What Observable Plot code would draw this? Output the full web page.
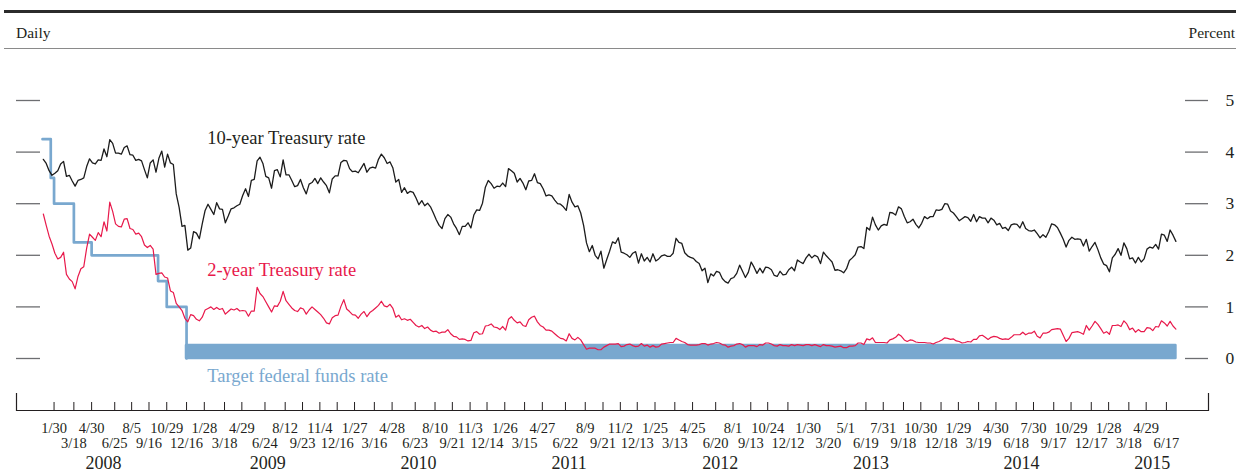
<!DOCTYPE html>
<html>
<head>
<meta charset="utf-8">
<script src="https://cdn.jsdelivr.net/npm/d3@7"></script>
<script src="https://cdn.jsdelivr.net/npm/@observablehq/plot@0.6"></script>
<style>
  body { margin: 0; background: #fff; font-family: "Liberation Serif", "Times New Roman", serif; color: #231f20; }
  #hdr { position: relative; width: 1236px; height: 50px; }
  #hdr .thick { position: absolute; left: 4px; right: 0; top: 10px; height: 3px; background: #2b2b2b; }
  #hdr .thin { position: absolute; left: 4px; right: 0; top: 47.5px; height: 1.5px; background: #8a8a8a; }
  #hdr .lab { position: absolute; top: 25px; font-family: "Liberation Serif", serif; font-size: 15.5px; line-height: 15.5px; white-space: nowrap; }
  #chart { width: 1236px; height: 422px; }
</style>
</head>
<body>
<div id="hdr">
  <div class="thick"></div>
  <div class="lab" style="left:16px">Daily</div>
  <div class="lab" style="right:1px">Percent</div>
  <div class="thin"></div>
</div>
<div id="chart"></div>
<script>
// ---------- Data (weekly Friday readings, percent) ----------
const tenYear2008 = [3.86,3.78,3.64,3.55,3.59,3.64,3.77,3.82,3.53,3.55,3.44,3.34,3.45,3.47,3.50,3.72,3.87,3.79,3.77,3.85,3.84,4.06,3.91,4.24,4.17,3.98,3.98,3.96,4.09,4.12,3.95,3.94,3.84,3.86,3.83,3.66,3.50,3.79,3.85,3.61,3.88,4.02,3.71,3.96,3.79,3.76,3.19,2.93,2.56,2.58,2.10,2.14];
const tenYear2009 = [2.46,2.43,2.32,2.61,2.87,2.99,2.89,2.79,3.02,2.90,2.89,2.63,2.76,2.90,2.92,2.96,2.99,3.16,3.29,3.14,3.45,3.47,3.83,3.90,3.78,3.53,3.50,3.30,3.64,3.66,3.52,3.85,3.56,3.56,3.45,3.33,3.35,3.47,3.31,3.19,3.38,3.41,3.49,3.39,3.50,3.42,3.35,3.21,3.48,3.54,3.54,3.80];
const tenYear2010 = [3.84,3.83,3.68,3.62,3.63,3.60,3.69,3.78,3.61,3.69,3.71,3.69,3.86,3.96,3.89,3.78,3.81,3.69,3.42,3.47,3.22,3.31,3.20,3.24,3.22,3.11,2.98,3.06,2.96,3.01,2.94,2.82,2.69,2.58,2.52,2.71,2.79,2.74,2.61,2.52,2.40,2.56,2.56,2.63,2.53,2.78,2.88,2.87,3.01,3.32,3.45,3.39,3.30];
const tenYear2011 = [3.34,3.33,3.40,3.33,3.68,3.64,3.59,3.42,3.49,3.40,3.27,3.44,3.45,3.58,3.41,3.39,3.29,3.15,3.17,3.15,3.07,3.00,2.99,2.94,2.87,3.18,3.03,2.94,2.96,2.82,2.58,2.24,2.07,2.19,2.00,1.93,2.08,1.75,1.92,2.08,2.26,2.23,2.34,2.06,2.04,2.01,1.96,2.04,2.07,1.85,2.03,1.89];
const tenYear2012 = [1.96,1.87,2.03,1.89,1.93,1.99,2.01,1.98,1.98,2.04,2.33,2.25,2.23,2.05,1.99,1.96,1.94,1.88,1.84,1.70,1.75,1.47,1.64,1.60,1.69,1.67,1.55,1.49,1.46,1.55,1.57,1.65,1.81,1.69,1.57,1.67,1.87,1.77,1.65,1.75,1.66,1.77,1.76,1.72,1.61,1.59,1.69,1.62,1.63,1.72,1.77,1.70];
const tenYear2013 = [1.91,1.87,1.84,1.95,2.02,1.95,2.00,1.97,1.84,2.06,1.99,1.93,1.87,1.71,1.72,1.70,1.66,1.74,1.90,1.95,2.01,2.16,2.17,2.13,2.54,2.49,2.74,2.59,2.49,2.57,2.60,2.58,2.83,2.82,2.78,2.94,2.90,2.75,2.63,2.65,2.70,2.60,2.53,2.62,2.75,2.71,2.75,2.75,2.88,2.87,2.89,3.00];
const tenYear2014 = [2.99,2.86,2.82,2.75,2.67,2.71,2.75,2.73,2.66,2.79,2.65,2.75,2.72,2.72,2.63,2.72,2.68,2.59,2.62,2.52,2.54,2.48,2.59,2.61,2.60,2.53,2.65,2.52,2.48,2.47,2.49,2.42,2.34,2.40,2.35,2.46,2.61,2.59,2.54,2.43,2.31,2.16,2.29,2.35,2.31,2.32,2.31,2.18,2.31,2.08,2.17,2.25];
const tenYear2015 = [2.11,1.95,1.83,1.80,1.68,1.95,2.02,2.13,2.00,2.24,2.13,1.93,1.95,1.85,1.96,1.87,1.93,2.12,2.16,2.14,2.21,2.12,2.41,2.39,2.27,2.49,2.39,2.27];

const twoYear2008 = [2.80,2.58,2.37,2.22,2.04,1.93,1.96,2.06,1.63,1.54,1.49,1.35,1.59,1.74,1.78,2.14,2.41,2.35,2.29,2.44,2.36,2.65,2.47,3.03,2.85,2.61,2.56,2.55,2.70,2.71,2.52,2.50,2.41,2.43,2.36,2.20,2.15,2.19,2.12,1.63,1.65,1.66,1.58,1.56,1.31,1.28,1.07,1.00,0.93,0.78,0.71,0.85];
const twoYear2009 = [0.83,0.76,0.73,0.80,0.94,0.97,1.00,0.95,0.99,0.95,0.97,0.86,0.91,0.96,0.94,0.97,0.92,0.93,0.92,0.82,0.92,0.92,1.38,1.26,1.20,1.10,1.00,0.90,1.02,1.01,1.11,1.30,1.12,1.05,0.98,0.93,0.91,0.98,0.96,0.86,0.94,1.00,0.95,0.90,0.85,0.78,0.69,0.67,0.79,0.83,0.84,1.01];
const twoYear2010 = [1.14,0.96,0.91,0.85,0.84,0.78,0.86,0.91,0.81,0.89,0.93,0.98,1.03,1.11,1.02,1.00,1.05,0.97,0.80,0.84,0.75,0.77,0.74,0.76,0.70,0.64,0.61,0.64,0.58,0.61,0.55,0.52,0.53,0.49,0.51,0.51,0.56,0.48,0.43,0.42,0.37,0.38,0.37,0.34,0.35,0.50,0.52,0.47,0.48,0.63,0.64,0.67,0.61];
const twoYear2011 = [0.60,0.56,0.62,0.55,0.76,0.81,0.74,0.69,0.71,0.64,0.62,0.75,0.80,0.82,0.71,0.64,0.61,0.55,0.55,0.53,0.48,0.43,0.39,0.38,0.34,0.48,0.39,0.36,0.41,0.36,0.27,0.18,0.20,0.20,0.20,0.17,0.17,0.22,0.25,0.28,0.28,0.28,0.29,0.23,0.24,0.27,0.28,0.25,0.23,0.24,0.29,0.24];
const twoYear2012 = [0.26,0.22,0.25,0.22,0.23,0.28,0.29,0.30,0.31,0.31,0.39,0.36,0.33,0.31,0.27,0.26,0.26,0.26,0.27,0.29,0.29,0.26,0.28,0.29,0.31,0.30,0.27,0.26,0.22,0.24,0.25,0.28,0.29,0.27,0.22,0.25,0.25,0.25,0.23,0.27,0.26,0.30,0.30,0.28,0.25,0.24,0.27,0.25,0.25,0.24,0.27,0.25];
const twoYear2013 = [0.27,0.26,0.25,0.27,0.27,0.25,0.27,0.25,0.23,0.27,0.25,0.25,0.24,0.22,0.23,0.24,0.21,0.21,0.24,0.24,0.25,0.30,0.30,0.27,0.38,0.36,0.40,0.31,0.31,0.31,0.31,0.30,0.36,0.38,0.41,0.47,0.43,0.36,0.33,0.36,0.35,0.32,0.31,0.31,0.31,0.30,0.30,0.28,0.31,0.33,0.36,0.40];
const twoYear2014 = [0.39,0.37,0.38,0.34,0.33,0.30,0.31,0.33,0.32,0.37,0.37,0.44,0.45,0.41,0.37,0.41,0.43,0.42,0.39,0.37,0.38,0.37,0.41,0.46,0.46,0.46,0.51,0.46,0.49,0.49,0.53,0.43,0.40,0.49,0.49,0.51,0.56,0.57,0.58,0.57,0.45,0.33,0.39,0.50,0.51,0.52,0.50,0.47,0.64,0.55,0.63,0.72];
const twoYear2015 = [0.66,0.58,0.49,0.52,0.47,0.64,0.64,0.65,0.62,0.73,0.67,0.56,0.59,0.51,0.56,0.52,0.52,0.60,0.59,0.54,0.62,0.61,0.73,0.69,0.63,0.72,0.63,0.57];

// Target federal funds rate (steps), then target range from 12/16/2008
const ffDates = ["2008-01-02","2008-01-22","2008-01-30","2008-03-18","2008-04-30","2008-10-08","2008-10-29","2008-12-16"];
const ffRates = [4.25, 3.5, 3.0, 2.25, 2.0, 1.5, 1.0, 0];
const ffRangeDates = ["2008-12-16", "2015-07-10"];
const ffRangeLower = [0, 0];
const ffRangeUpper = [0.25, 0.25];

// FOMC meeting dates used as x-axis ticks
const fomcDates = [
  "2008-01-30","2008-03-18","2008-04-30","2008-06-25","2008-08-05","2008-09-16","2008-10-29","2008-12-16",
  "2009-01-28","2009-03-18","2009-04-29","2009-06-24","2009-08-12","2009-09-23","2009-11-04","2009-12-16",
  "2010-01-27","2010-03-16","2010-04-28","2010-06-23","2010-08-10","2010-09-21","2010-11-03","2010-12-14",
  "2011-01-26","2011-03-15","2011-04-27","2011-06-22","2011-08-09","2011-09-21","2011-11-02","2011-12-13",
  "2012-01-25","2012-03-13","2012-04-25","2012-06-20","2012-08-01","2012-09-13","2012-10-24","2012-12-12",
  "2013-01-30","2013-03-20","2013-05-01","2013-06-19","2013-07-31","2013-09-18","2013-10-30","2013-12-18",
  "2014-01-29","2014-03-19","2014-04-30","2014-06-18","2014-07-30","2014-09-17","2014-10-29","2014-12-17",
  "2015-01-28","2015-03-18","2015-04-29","2015-06-17"
];
const yearLabels = ["2008","2009","2010","2011","2012","2013","2014","2015"];
const yearLabelDates = ["2008-05-29","2009-07-01","2010-07-01","2011-07-01","2012-07-01","2013-07-01","2014-07-01","2015-05-14"];
const yTicks = [0, 1, 2, 3, 4, 5];
const xDomain = ["2007-10-31", "2015-09-27"];

const seriesNames = ["10-year Treasury rate", "2-year Treasury rate", "Target federal funds rate"];
const seriesLabelDates = ["2009-02-04", "2009-02-04", "2009-02-04"];
const seriesLabelValues = [4.28, 1.705, -0.35];

// ---------- Build tables ----------
const parse = s => new Date(s + "T00:00:00Z");
function weekly(year, values) {
  const fridays = d3.utcFriday.range(new Date(Date.UTC(year, 0, 1)), new Date(Date.UTC(year + 1, 0, 1)));
  return values.map((v, i) => ({date: fridays[i], value: v}));
}
const tenYear = [[2008,tenYear2008],[2009,tenYear2009],[2010,tenYear2010],[2011,tenYear2011],[2012,tenYear2012],[2013,tenYear2013],[2014,tenYear2014],[2015,tenYear2015]].flatMap(([y, v]) => weekly(y, v));
const twoYear = [[2008,twoYear2008],[2009,twoYear2009],[2010,twoYear2010],[2011,twoYear2011],[2012,twoYear2012],[2013,twoYear2013],[2014,twoYear2014],[2015,twoYear2015]].flatMap(([y, v]) => weekly(y, v));
const ffStep = ffDates.map((d, i) => ({date: parse(d), rate: ffRates[i]}));
const ffBand = ffRangeDates.map((d, i) => ({date: parse(d), lower: ffRangeLower[i], upper: ffRangeUpper[i]}));
const fomc = fomcDates.map(parse);
const topRow = fomc.filter((d, i) => i % 2 === 0);
const bottomRow = fomc.filter((d, i) => i % 2 === 1);
const years = yearLabels.map((t, i) => ({label: t, date: parse(yearLabelDates[i])}));
const labels = seriesNames.map((t, i) => ({label: t, date: parse(seriesLabelDates[i]), value: seriesLabelValues[i]}));
const fmt = d => `${d.getUTCMonth() + 1}/${d.getUTCDate()}`;

const BLUE = "#79a8cf", RED = "#e8194b", BLACK = "#1c1c1c", TEXT = "#231f20", GRAY = "#6d6e71";
const FONT = "'Liberation Serif', 'Times New Roman', serif";

const chart = Plot.plot({
  width: 1236,
  height: 422,
  marginTop: 0,
  marginBottom: 62,
  marginLeft: 16,
  marginRight: 28,
  x: {type: "utc", domain: xDomain.map(parse), axis: null},
  y: {domain: [0, 5], range: [308, 50], axis: null},
  style: {fontFamily: FONT, color: TEXT, background: "transparent", overflow: "visible"},
  marks: [
    Plot.areaY(ffBand, {x: "date", y1: "lower", y2: "upper", fill: BLUE, stroke: BLUE, strokeWidth: 2.6}),
    Plot.line(ffStep, {x: "date", y: "rate", curve: "step-after", stroke: BLUE, strokeWidth: 2.7}),
    Plot.line(twoYear, {x: "date", y: "value", stroke: RED, strokeWidth: 1.2}),
    Plot.line(tenYear, {x: "date", y: "value", stroke: BLACK, strokeWidth: 1.3}),
    Plot.tickY(yTicks, {y: d => d, insetRight: 1168, stroke: GRAY, strokeWidth: 1.3}),
    Plot.tickY(yTicks, {y: d => d, insetLeft: 1169, stroke: GRAY, strokeWidth: 1.3}),
    Plot.text(yTicks, {y: d => d, text: d => String(d), frameAnchor: "right", textAnchor: "start", dx: 17, fontSize: 17.5, fontFamily: FONT, fill: TEXT}),
    Plot.frame({anchor: "bottom", stroke: TEXT, strokeWidth: 1.2}),
    Plot.ruleX(xDomain.map(parse), {x: d => d, insetTop: 343, stroke: TEXT, strokeWidth: 1.2}),
    Plot.tickX(fomc, {x: d => d, insetTop: 352, stroke: TEXT, strokeWidth: 1}),
    Plot.text(topRow, {x: d => d, text: fmt, frameAnchor: "bottom", lineAnchor: "middle", dy: 18, fontSize: 14.5, fontFamily: FONT, fill: TEXT}),
    Plot.text(bottomRow, {x: d => d, text: fmt, frameAnchor: "bottom", lineAnchor: "middle", dy: 32.5, fontSize: 14.5, fontFamily: FONT, fill: TEXT}),
    Plot.text(years, {x: "date", text: "label", frameAnchor: "bottom", lineAnchor: "middle", dy: 53, fontSize: 18, fontFamily: FONT, fill: TEXT}),
    Plot.text(labels.slice(0, 1), {x: "date", y: "value", text: "label", textAnchor: "start", fontSize: 18.5, fontFamily: FONT, fill: TEXT}),
    Plot.text(labels.slice(1, 2), {x: "date", y: "value", text: "label", textAnchor: "start", fontSize: 18.5, fontFamily: FONT, fill: RED}),
    Plot.text(labels.slice(2, 3), {x: "date", y: "value", text: "label", textAnchor: "start", fontSize: 18.5, fontFamily: FONT, fill: BLUE})
  ]
});
document.getElementById("chart").append(chart);
</script>
</body>
</html>
